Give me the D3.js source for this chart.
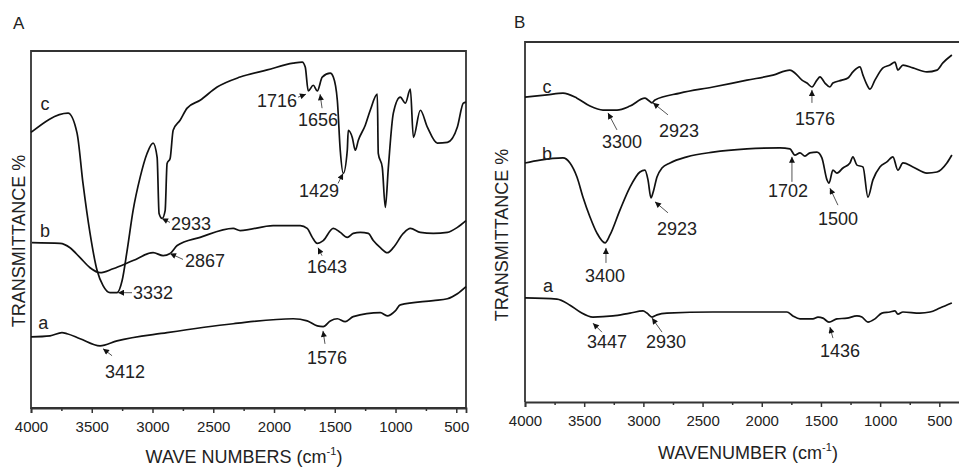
<!DOCTYPE html>
<html>
<head>
<meta charset="utf-8">
<script src="https://cdn.jsdelivr.net/npm/d3@7"></script>
<style>
  body { margin: 0; background: #fff; }
  svg { display: block; font-family: "Liberation Sans", Arial, sans-serif; }
</style>
</head>
<body>
<svg id="chart" width="959" height="467"></svg>
<script>
// spectra: [wavenumber (cm-1), transmittance (arbitrary %)]
const specA_a = [[4000,19.9],[3843,20.2],[3745,21.1],[3703,20.8],[3596,19.4],[3432,17.4],[3292,18.8],[2880,21.1],[2336,23.6],[1842,25.0],[1727,24.4],[1644,23.0],[1595,22.8],[1537,24.4],[1479,25.0],[1414,24.2],[1348,25.6],[1125,26.7],[1068,25.8],[1002,27.2],[961,28.9],[689,30.1],[573,30.6],[491,32.0],[420,34.0]];
const specA_b = [[3992,46.3],[3761,46.1],[3679,44.9],[3596,42.1],[3514,39.3],[3432,37.9],[3325,39.0],[3160,41.3],[2995,43.5],[2913,42.7],[2855,43.3],[2797,45.5],[2608,47.8],[2336,50.3],[2279,49.7],[2007,51.1],[1784,51.1],[1727,50.3],[1685,47.8],[1644,46.1],[1595,46.9],[1512,50.3],[1455,49.2],[1397,47.8],[1348,48.9],[1290,49.2],[1224,48.9],[1183,46.9],[1125,44.9],[1068,43.5],[1018,44.9],[936,48.9],[878,50.3],[796,49.2],[689,48.9],[573,49.2],[491,50.6],[420,52.5]];
const specA_c = [[4000,77.2],[3695,82.6],[3621,77.0],[3572,62.9],[3514,48.9],[3456,38.5],[3407,34.3],[3349,32.3],[3292,32.3],[3250,35.7],[3209,44.1],[3160,55.3],[3102,64.6],[3045,71.3],[2995,74.2],[2962,70.2],[2946,54.5],[2921,53.1],[2896,55.3],[2880,68.5],[2855,69.9],[2830,77.8],[2773,80.6],[2715,84.0],[2608,86.2],[2468,89.9],[2279,92.7],[2056,94.7],[1842,96.6],[1768,96.9],[1743,95.5],[1718,88.8],[1677,90.4],[1644,88.8],[1603,92.7],[1537,93.8],[1512,92.7],[1479,86.2],[1455,72.2],[1430,65.7],[1397,72.2],[1389,77.8],[1356,75.8],[1331,72.2],[1306,75.0],[1249,79.2],[1208,83.4],[1150,87.9],[1142,71.3],[1109,67.4],[1084,56.2],[1059,67.4],[1018,82.6],[961,87.1],[919,85.4],[878,89.3],[853,75.8],[796,83.4],[738,78.7],[656,74.2],[573,74.4],[491,78.7],[442,85.4],[420,85.7]];

const specB_a = [[4000,28.9],[3730,28.6],[3620,26.9],[3535,25.0],[3426,23.6],[3257,23.9],[3113,24.7],[3003,25.3],[2970,24.7],[2927,23.6],[2885,24.2],[2801,24.7],[2412,25.0],[1787,25.0],[1737,23.9],[1677,23.1],[1568,23.1],[1525,23.6],[1483,23.3],[1432,22.2],[1365,23.1],[1280,23.3],[1196,23.9],[1154,23.6],[1103,22.2],[1044,23.1],[985,24.7],[917,25.0],[875,25.3],[850,24.4],[807,25.0],[664,24.7],[579,25.0],[495,26.1],[394,27.5]];
const specB_b = [[4000,66.4],[3873,67.2],[3679,67.8],[3620,66.4],[3561,62.5],[3510,56.9],[3451,51.4],[3392,46.9],[3324,44.2],[3282,46.4],[3198,53.3],[3113,59.7],[3029,63.9],[2987,64.4],[2961,61.7],[2936,56.7],[2919,58.1],[2885,62.5],[2843,65.0],[2775,66.4],[2632,68.1],[2412,69.4],[2125,70.3],[1846,70.6],[1762,70.3],[1720,68.6],[1677,69.2],[1635,68.3],[1593,69.2],[1534,69.4],[1492,67.8],[1449,61.7],[1432,60.8],[1399,64.4],[1365,63.6],[1314,65.0],[1255,66.4],[1230,68.1],[1196,65.8],[1145,65.3],[1103,56.9],[1061,61.7],[1002,65.3],[943,66.7],[892,68.1],[850,64.4],[807,66.4],[723,65.3],[605,63.6],[520,63.9],[436,66.4],[394,68.6]];
const specB_c = [[4000,84.7],[3814,85.3],[3679,85.8],[3561,84.4],[3451,82.2],[3341,81.1],[3223,81.1],[3113,82.2],[2987,84.4],[2961,83.9],[2927,83.1],[2902,83.9],[2691,85.8],[2412,87.5],[2125,89.4],[1905,90.8],[1762,92.2],[1720,91.4],[1660,89.4],[1618,88.6],[1576,87.5],[1534,89.4],[1508,90.3],[1466,88.6],[1424,87.5],[1399,88.6],[1323,89.4],[1272,90.0],[1230,91.7],[1171,93.1],[1145,90.8],[1111,88.1],[1086,86.9],[1044,89.4],[976,92.8],[917,93.6],[875,94.4],[850,92.2],[807,93.6],[723,92.8],[605,91.7],[520,92.2],[470,94.2],[394,96.4]];

// sample letters: [letter, wavenumber, transmittance]
const lettersA = [["c",3885,83.4],["b",3885,48.0],["a",3900,22.2]];
const lettersB = [["c",3814,85.8],["b",3814,67.2],["a",3806,30.6]];

// peak marks: [label, wavenumber, transmittance at arrow tip]
const peaksA = [["1716",1737,87.9],["1656",1621,87.9],["1429",1432,65.7],["2933",2922,53.1],["2867",2856,43.3],["3332",3284,32.3],["1643",1638,44.9],["3412",3407,16.6],["1576",1597,21.6]];
const peaksB = [["3300",3299,80.3],["2923",2919,83.1],["1576",1576,86.7],["2923",2902,55.6],["1702",1745,68.1],["1500",1424,59.4],["3400",3316,42.8],["3447",3426,21.9],["2930",2927,23.3],["1436",1424,20.8]];

const majorTicks = d3.range(4000, 400, -500);
const minorTicks = d3.range(3750, 400, -500);

// label layout relative to arrow tip: [tailDx, tailDy, textDx, textDy, anchor]
const layoutA = [[-8,3,-9,13,"end"],[2,14,-2,32,"middle"],[-5,10,-24,24,"middle"],[8,4,9,12,"start"],[13,6,15,14,"start"],[14,0,15,6,"start"],[4,8,9,25,"middle"],[9,7,22,29,"middle"],[2,13,4,33,"middle"]];
const layoutB = [[9,17,14,35,"middle"],[15,12,26,34,"middle"],[0,13,3,35,"middle"],[13,11,22,33,"middle"],[0,25,-4,40,"middle"],[8,17,8,37,"middle"],[0,15,-1,34,"middle"],[9,9,14,25,"middle"],[10,14,14,30,"middle"],[3,11,10,30,"middle"]];

const svg = d3.select("#chart");

svg.append("defs").append("marker")
  .attr("id", "head")
  .attr("viewBox", "0 0 10 10")
  .attr("refX", 10).attr("refY", 5)
  .attr("markerUnits", "userSpaceOnUse")
  .attr("markerWidth", 7).attr("markerHeight", 6)
  .attr("orient", "auto")
  .append("path")
  .attr("d", "M0,0L10,5L0,10Z")
  .attr("fill", "#111");

function drawPanel(p) {
  const x = d3.scaleLinear().domain(p.xDomain).range([p.left, p.right]);
  const y = d3.scaleLinear().domain([0, 100]).range([p.bottom, p.top]);
  const g = svg.append("g");

  // frame
  g.append("path")
    .attr("d", p.closed
      ? `M${p.left},${p.top}H${p.right}V${p.bottom}H${p.left}Z`
      : `M${p.right},${p.top}H${p.left}V${p.bottom}`)
    .attr("fill", "none").attr("stroke", "#333").attr("stroke-width", 1.8);

  const axis = g.append("g")
    .attr("transform", `translate(0,${p.bottom})`)
    .call(d3.axisBottom(x).tickValues(majorTicks).tickSize(5).tickPadding(8).tickFormat(d3.format("d")));
  axis.select(".domain").attr("stroke", "#333").attr("stroke-width", 1.8);
  axis.selectAll(".tick line").attr("stroke", "#333").attr("stroke-width", 1.5);
  axis.selectAll(".tick text").attr("font-size", 15).attr("fill", "#222")
    .attr("font-family", "Liberation Sans, Arial, sans-serif");

  const minor = g.append("g")
    .attr("transform", `translate(0,${p.bottom})`)
    .call(d3.axisBottom(x).tickValues(minorTicks).tickSize(3).tickFormat(""));
  minor.select(".domain").remove();
  minor.selectAll(".tick line").attr("stroke", "#333").attr("stroke-width", 1.5);

  const line = d3.line().x(d => x(d[0])).y(d => y(d[1])).curve(d3.curveMonotoneX);
  p.series.forEach(s => {
    g.append("path").datum(s)
      .attr("d", line)
      .attr("fill", "none").attr("stroke", "#111").attr("stroke-width", 1.7)
      .attr("stroke-linejoin", "round");
  });

  g.selectAll(".letter").data(p.letters).join("text")
    .attr("x", d => x(d[1])).attr("y", d => y(d[2]))
    .attr("text-anchor", "middle")
    .attr("font-size", 18).attr("fill", "#222")
    .text(d => d[0]);

  p.peaks.forEach((d, i) => {
    const [tdx, tdy, dx, dy, anchor] = p.layout[i];
    const px = x(d[1]), py = y(d[2]);
    g.append("line")
      .attr("x1", px + tdx).attr("y1", py + tdy)
      .attr("x2", px).attr("y2", py)
      .attr("stroke", "#555").attr("stroke-width", 1)
      .attr("marker-end", "url(#head)");
    g.append("text")
      .attr("x", px + dx).attr("y", py + dy)
      .attr("text-anchor", anchor)
      .attr("font-size", 18).attr("fill", "#222")
      .text(d[0]);
  });

  // titles
  const xt = g.append("text")
    .attr("x", p.xTitleX).attr("y", p.xTitleY)
    .attr("text-anchor", "middle").attr("font-size", 18).attr("fill", "#222");
  xt.append("tspan").text(p.xTitle + " (cm");
  xt.append("tspan").attr("font-size", 11).attr("dy", -8).text("-1");
  xt.append("tspan").attr("dy", 8).text(")");

  g.append("text")
    .attr("transform", `translate(${p.yTitleX},${p.yTitleY}) rotate(-90)`)
    .attr("text-anchor", "middle").attr("font-size", 18).attr("fill", "#222")
    .text("TRANSMITTANCE %");

  g.append("text")
    .attr("x", p.tagX).attr("y", p.tagY)
    .attr("font-size", 17).attr("fill", "#222")
    .text(p.tag);
}

drawPanel({
  tag: "A", tagX: 13, tagY: 29,
  xDomain: [4000, 420], left: 31, right: 466, top: 51, bottom: 408, closed: true,
  series: [specA_a, specA_b, specA_c], letters: lettersA, peaks: peaksA, layout: layoutA,
  xTitle: "WAVE NUMBERS", xTitleX: 244, xTitleY: 463,
  yTitleX: 25, yTitleY: 241
});

drawPanel({
  tag: "B", tagX: 514, tagY: 28,
  xDomain: [4000, 300], left: 525, right: 963, top: 42, bottom: 402, closed: false,
  series: [specB_a, specB_b, specB_c], letters: lettersB, peaks: peaksB, layout: layoutB,
  xTitle: "WAVENUMBER", xTitleX: 748, xTitleY: 459,
  yTitleX: 508, yTitleY: 235
});
</script>
</body>
</html>
